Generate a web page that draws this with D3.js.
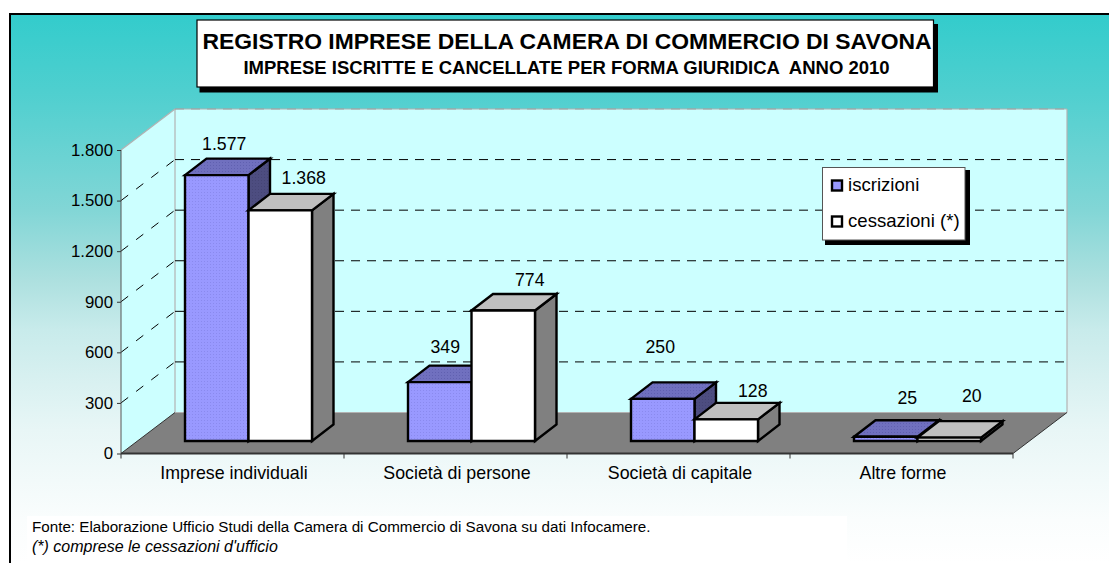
<!DOCTYPE html>
<html><head><meta charset="utf-8">
<script src="https://cdn.jsdelivr.net/npm/d3@7/dist/d3.min.js"></script>
<style>html,body{margin:0;padding:0;background:#fff}svg{display:block}text{font-family:"Liberation Sans",Arial,sans-serif;fill:#000}</style>
</head><body><script>
const categories = ["Imprese individuali","Società di persone","Società di capitale","Altre forme"];
const seriesNames = ["iscrizioni","cessazioni (*)"];
const iscrizioni = [1577,349,250,25];
const cessazioni = [1368,774,128,20];
const yTicks = [0,300,600,900,1200,1500,1800];
const titleText = "REGISTRO IMPRESE DELLA CAMERA DI COMMERCIO DI SAVONA";
const subtitleText = "IMPRESE ISCRITTE E CANCELLATE PER FORMA GIURIDICA  ANNO 2010";
const sourceNotes = ["Fonte: Elaborazione Ufficio Studi della Camera di Commercio di Savona su dati Infocamere.","(*) comprese le cessazioni d'ufficio"];

const W=1109,H=563;
const fmt = d3.formatLocale({decimal:",",thousands:".",grouping:[3],currency:["",""]}).format(",d");
const svg=d3.select("body").append("svg").attr("width",W).attr("height",H);
const defs=svg.append("defs");
const g=defs.append("linearGradient").attr("id","bg").attr("gradientUnits","userSpaceOnUse").attr("x1",0).attr("x2",0).attr("y1",15).attr("y2",563);
[[15,"#33CCCC"],[90,"#4ECFCF"],[210,"#82D6D6"],[280,"#ADE0DF"],[330,"#C8EBEB"],[430,"#E8F6F6"],[520,"#FAFDFD"],[563,"#FFFFFF"]].forEach(([yy,c])=>{
  g.append("stop").attr("offset",(yy-15)/548).attr("stop-color",c);
});
function stipple(id,bg,dot){
  const p=defs.append("pattern").attr("id",id).attr("width",3).attr("height",3).attr("patternUnits","userSpaceOnUse");
  p.append("rect").attr("width",3).attr("height",3).attr("fill",bg);
  p.append("rect").attr("width",1).attr("height",1).attr("fill",dot);
}
stipple("pFront","#9999FF","#8A8AEE");
stipple("pTop","#7070BF","#6060B0");
stipple("pSide","#4D4D80","#454575");

svg.append("rect").attr("x",10).attr("y",14).attr("width",W).attr("height",H).attr("fill","url(#bg)").attr("stroke","#000").attr("stroke-width",2);

// geometry
const left=121,right=1013,depthX=54,depthY=41;
const y=d3.scaleLinear().domain([0,1800]).range([453.5,150]);
const x=d3.scaleBand().domain(categories).range([left,right]);
const barOffX=16.5,barOffY=12.5;
const inner=d3.scaleBand().domain(seriesNames).range([48,x.bandwidth()-48]);
const poly=(pts,fill,sw=0,stroke="#000")=>svg.append("polygon").attr("points",pts.map(p=>p.join(",")).join(" ")).attr("fill",fill).attr("stroke",sw?stroke:"none").attr("stroke-width",sw).attr("stroke-linejoin","miter");
const line=(x1,y1,x2,y2,c,w,d)=>svg.append("line").attr("x1",x1).attr("y1",y1).attr("x2",x2).attr("y2",y2).attr("stroke",c).attr("stroke-width",w).attr("stroke-dasharray",d||null);

// walls
const y0=y(0), yT=y(1800);
poly([[left,y0],[left,yT],[left+depthX,yT-depthY],[left+depthX,y0-depthY]],"#CCFFFF");
poly([[left+depthX,yT-depthY],[right+depthX,yT-depthY],[right+depthX,y0-depthY],[left+depthX,y0-depthY]],"#CCFFFF");
poly([[left,y0],[right,y0],[right+depthX,y0-depthY],[left+depthX,y0-depthY]],"#808080");
line(left,yT,left+depthX,yT-depthY,"#B2B2B2",1.2);
line(left+depthX,yT-depthY,left+depthX,y0-depthY,"#B2B2B2",1.2);
line(left+depthX,yT-depthY,right+depthX,yT-depthY,"#B2B2B2",1.2);
line(right+depthX,yT-depthY,right+depthX,y0-depthY,"#B2B2B2",1.2);
line(left+depthX,y0-depthY,right+depthX,y0-depthY,"#B2B2B2",1);
line(left,y0,left+depthX,y0-depthY,"#333",1);
line(right,y0,right+depthX,y0-depthY,"#333",1);

// gridlines
yTicks.filter(t=>t>0&&t<1800).forEach(t=>{
  const yy=y(t);
  line(left,yy,left+depthX,yy-depthY,"#000",1,"9,10");
  line(left+depthX,yy-depthY,right+depthX,yy-depthY,"#000",1,"9,7");
});
line(left+depthX,yT-depthY,right+depthX,yT-depthY,"#999",0.8,"9,7");
// axes
const axY=d3.axisLeft(y).tickValues(yTicks).tickFormat(fmt).tickSize(4).tickPadding(4);
const ag=svg.append("g").attr("transform",`translate(${left},0)`).call(axY);
ag.selectAll("text").attr("font-size",16.8).attr("fill","#000");
ag.select(".domain").attr("stroke","#555").attr("d",`M0,${yT}V${y0}`);
ag.selectAll("line").attr("stroke","#333");
line(left,y0,right,y0,"#333",2);
x.domain().concat(["end"]).forEach((c,i)=>{const xx=left+i*x.bandwidth();line(xx,y0,xx,y0+5,"#333",1);});
svg.append("g").selectAll("text").data(categories).join("text")
  .attr("x",d=>x(d)+x.bandwidth()/2+1.5).attr("y",478.5).attr("text-anchor","middle").attr("font-size",17.8).text(d=>d);

// bars
const bd=[21.5,16.5];
const styles=[{front:"url(#pFront)",top:"url(#pTop)",side:"url(#pSide)"},{front:"#FFFFFF",top:"#BFBFBF",side:"#808080"}];
const seriesVals=[iscrizioni,cessazioni];
// hand-placed data labels of the original, as offsets from each bar's top-right
const labelShift=[[[-14,-25],[2,-26.3]],[[-16,-29],[5,-24.5]],[[-24,-46],[5,-22.7]],[[0,-33],[1,-35.6]]];
const labels=[];
categories.forEach((c,ci)=>{
  seriesNames.forEach((s,si)=>{
    const v=seriesVals[si][ci];
    const x0=x(c)+inner(s)+barOffX-0.5, w=inner.bandwidth(), bot=y0-barOffY, h=y0-y(v), top=bot-h;
    const st=styles[si];
    poly([[x0+w,bot],[x0+w+bd[0],bot-bd[1]],[x0+w+bd[0],top-bd[1]],[x0+w,top]],st.side,2.4);
    poly([[x0,top],[x0+bd[0],top-bd[1]],[x0+w+bd[0],top-bd[1]],[x0+w,top]],st.top,2.4);
    poly([[x0,bot],[x0,top],[x0+w,top],[x0+w,bot]],st.front,2.4);
    labels.push({v,x:x0+w/2+bd[0]+labelShift[ci][si][0],y:top+labelShift[ci][si][1]});
  });
});
svg.append("g").selectAll("text").data(labels).join("text").attr("x",d=>d.x).attr("y",d=>d.y)
  .attr("text-anchor","middle").attr("font-size",17.7).text(d=>fmt(d.v));

// title box
svg.append("rect").attr("x",199.5).attr("y",24).attr("width",738.5).attr("height",68.5).attr("fill","#000");
svg.append("rect").attr("x",197).attr("y",20).attr("width",736.5).attr("height",67).attr("fill","#fff").attr("stroke","#000").attr("stroke-width",1.2);
svg.append("text").attr("x",567).attr("y",49).attr("text-anchor","middle").attr("font-weight","bold").attr("font-size",22.9).text(titleText);
svg.append("text").attr("x",566.5).attr("y",74).attr("text-anchor","middle").attr("font-weight","bold").attr("font-size",18.5).style("white-space","pre").text(subtitleText);

// legend
svg.append("rect").attr("x",825).attr("y",170).attr("width",145).attr("height",75).attr("fill","#000");
svg.append("rect").attr("x",822.5).attr("y",167.5).attr("width",142.5).attr("height",72.5).attr("fill","#fff").attr("stroke","#555").attr("stroke-width",1);
const legY=[185.5,221.5];
seriesNames.forEach((s,i)=>{
  svg.append("rect").attr("x",832).attr("y",legY[i]-5).attr("width",10).attr("height",10).attr("fill",i?"#fff":"#9999FF").attr("stroke","#000").attr("stroke-width",2.4);
  svg.append("text").attr("x",848).attr("y",legY[i]+5.5).attr("font-size",18.6).text(s);
});

// notes
svg.append("rect").attr("x",27).attr("y",516).attr("width",820).attr("height",47).attr("fill","#fff");
svg.append("text").attr("x",32).attr("y",532).attr("font-size",15.2).text(sourceNotes[0]);
svg.append("text").attr("x",32).attr("y",552).attr("font-size",16).attr("font-style","italic").text(sourceNotes[1]);
</script></body></html>
